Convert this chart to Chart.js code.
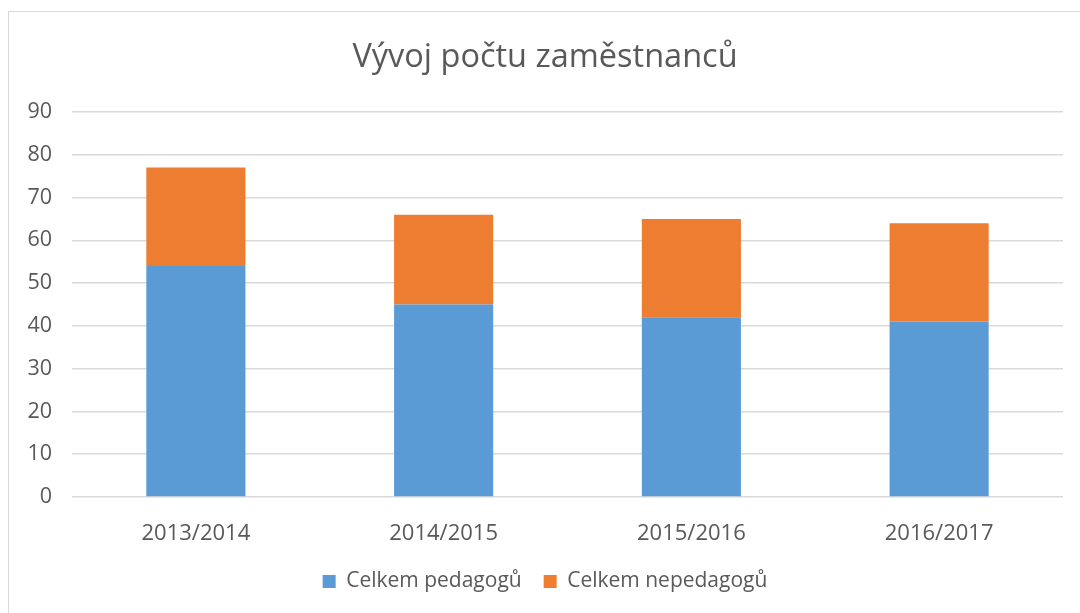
<!DOCTYPE html>
<html>
<head>
<meta charset="utf-8">
<script src="https://cdn.jsdelivr.net/npm/chart.js@4/dist/chart.umd.min.js"></script>
<style>
  html, body { margin: 0; padding: 0; background: #fff; overflow: hidden; }
  #box { position: absolute; left: 8px; top: 11px; width: 1100px; height: 700px; border: 1px solid #d9d9d9; }
  #wrap { position: absolute; left: 0; top: 0; width: 1071px; height: 601px; }
</style>
</head>
<body>
<div id="box"><div id="wrap"><canvas id="chart"></canvas></div></div>
<script>
const roky = ['2013/2014', '2014/2015', '2015/2016', '2016/2017'];
const pedagogove = [54, 45, 42, 41];
const nepedagogove = [23, 21, 23, 23];
const nadpis = 'Vývoj počtu zaměstnanců';

const sedy = '#595959';
const pismo = '"Open Sans", sans-serif';

const ctx = document.getElementById('chart');

const graf = new Chart(ctx, {
  type: 'bar',
  data: {
    labels: roky,
    datasets: [
      { label: 'Celkem pedagogů', data: pedagogove, backgroundColor: '#5b9bd5' },
      { label: 'Celkem nepedagogů', data: nepedagogove, backgroundColor: '#ed7d31' },
    ],
  },
  options: {
    responsive: true,
    maintainAspectRatio: false,
    animation: false,
    layout: { padding: { left: 18, right: 17, top: 0, bottom: 11 } },
    datasets: { bar: { barPercentage: 0.4, categoryPercentage: 1 } },
    plugins: {
      title: {
        display: true,
        text: nadpis,
        color: sedy,
        font: { family: pismo, size: 32.5, weight: 'normal' },
        padding: { top: 26, bottom: 35 },
      },
      legend: {
        position: 'bottom',
        labels: {
          color: sedy,
          font: { family: pismo, size: 21 },
          boxWidth: 13,
          boxHeight: 13,
          padding: 22,
        },
      },
      tooltip: { enabled: false },
    },
    scales: {
      x: {
        stacked: true,
        grid: { display: false },
        border: { display: false },
        ticks: { color: sedy, font: { family: pismo, size: 22 }, padding: 16 },
        afterFit: s => { s.height = 52; },
      },
      y: {
        stacked: true,
        min: 0,
        max: 90,
        ticks: { stepSize: 10, color: sedy, font: { family: pismo, size: 21.5 }, padding: 20 },
        grid: { color: '#d9d9d9', lineWidth: 1.5, drawTicks: false },
        border: { display: false },
        afterFit: s => { s.width = 45; },
      },
    },
  },
});
</script>
</body>
</html>
